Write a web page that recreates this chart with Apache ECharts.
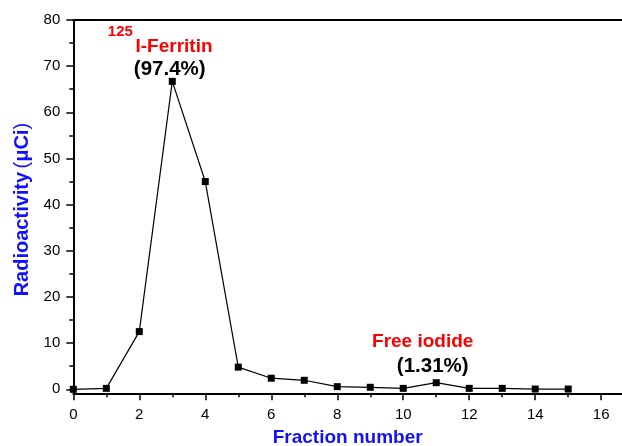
<!DOCTYPE html>
<html>
<head>
<meta charset="utf-8">
<script src="https://cdn.jsdelivr.net/npm/echarts@6/dist/echarts.min.js"></script>
<style>
  html, body { margin: 0; padding: 0; background: #fff; }
  #chart { width: 622px; height: 446px; }
</style>
</head>
<body>
<div id="chart"></div>
<script>
// Elution profile of the labelled ferritin: activity per collected fraction
const fractions = [0, 1, 2, 3, 4, 5, 6, 7, 8, 9, 10, 11, 12, 13, 14, 15];
const activity  = [0.0, 0.2, 12.5, 66.7, 45.0, 4.8, 2.4, 1.95, 0.57, 0.43, 0.2, 1.43, 0.2, 0.2, 0.05, 0.05];

const xMajorTicks = [0, 2, 4, 6, 8, 10, 12, 14, 16];
const xMinorTicks = [1, 3, 5, 7, 9, 11, 13, 15];
const yMajorTicks = [0, 10, 20, 30, 40, 50, 60, 70, 80];
const yMinorTicks = [5, 15, 25, 35, 45, 55, 65, 75];

const peakLabel = '(97.4%)';
const iodideLabel = '(1.31%)';

const FONT = '"Liberation Sans", Arial, sans-serif';
const BLUE = '#1010ff';
const RED = '#ff0000';

const X_MIN = 0, X_MAX = 16.63;
const Y_MIN = -0.87, Y_MAX = 80;

const chart = echarts.init(document.getElementById('chart'), null, { renderer: 'canvas' });

const axisLineStyle = { color: '#000', width: 2 };
const tickStyle = { color: '#000', width: 1.5 };

chart.setOption({
  animation: false,
  backgroundColor: '#fff',
  grid: {
    left: 73.3, right: 0, top: 20, bottom: 52.7,
    containLabel: false,
    outerBoundsMode: 'none'
  },
  xAxis: [
    {
      type: 'value', position: 'bottom', min: X_MIN, max: X_MAX,
      splitLine: { show: false },
      axisLine: { show: true, onZero: false, lineStyle: axisLineStyle },
      axisTick: { show: true, inside: false, customValues: xMajorTicks, length: 7, lineStyle: tickStyle },
      axisLabel: { show: true, customValues: xMajorTicks, margin: 14, color: '#000', fontSize: 15, fontFamily: FONT },
      name: 'Fraction number', nameLocation: 'middle', nameGap: 35,
      nameTextStyle: { color: BLUE, fontSize: 19, fontWeight: 'bold', fontFamily: FONT }
    },
    {
      type: 'value', position: 'bottom', min: X_MIN, max: X_MAX,
      splitLine: { show: false },
      axisLine: { show: false, onZero: false },
      axisTick: { show: true, inside: false, customValues: xMinorTicks, length: 4, lineStyle: tickStyle },
      axisLabel: { show: false }
    },
    {
      type: 'value', position: 'top', min: X_MIN, max: X_MAX,
      splitLine: { show: false },
      axisLine: { show: true, onZero: false, lineStyle: axisLineStyle },
      axisTick: { show: false },
      axisLabel: { show: false }
    }
  ],
  yAxis: [
    {
      type: 'value', position: 'left', min: Y_MIN, max: Y_MAX,
      splitLine: { show: false },
      axisLine: { show: true, onZero: false, lineStyle: axisLineStyle },
      axisTick: { show: true, inside: false, customValues: yMajorTicks, length: 7, lineStyle: tickStyle },
      axisLabel: { show: true, customValues: yMajorTicks, margin: 13, color: '#000', fontSize: 15, fontFamily: FONT },
      name: '{b|Radioactivity} {n|(}{b|\u03bcCi}{n|)}',
      nameLocation: 'middle', nameRotate: 90, nameGap: 41,
      nameTextStyle: {
        fontFamily: FONT,
        padding: [0, 6, 0, 0],
        rich: {
          b: { color: BLUE, fontSize: 20, fontWeight: 'bold', fontFamily: FONT },
          n: { color: BLUE, fontSize: 20, fontWeight: 'normal', fontFamily: FONT }
        }
      }
    },
    {
      type: 'value', position: 'left', min: Y_MIN, max: Y_MAX,
      splitLine: { show: false },
      axisLine: { show: false, onZero: false },
      axisTick: { show: true, inside: false, customValues: yMinorTicks, length: 4, lineStyle: tickStyle },
      axisLabel: { show: false }
    }
  ],
  series: [
    {
      type: 'line',
      xAxisIndex: 0, yAxisIndex: 0,
      data: fractions.map((f, i) => [f, activity[i]]),
      symbol: 'rect', symbolSize: 7,
      itemStyle: { color: '#000' },
      lineStyle: { color: '#000', width: 1.2 },
      clip: false
    }
  ],
  graphic: [
    { type: 'text', x: 120.3, y: 32, style: { text: '125', fill: RED, font: 'bold 15px ' + FONT, align: 'center', verticalAlign: 'middle' } },
    { type: 'text', x: 135.5, y: 47, style: { text: 'I-Ferritin', fill: RED, font: 'bold 19px ' + FONT, align: 'left', verticalAlign: 'middle' } },
    { type: 'text', x: 169.7, y: 69.5, style: { text: peakLabel, fill: '#000', font: 'bold 20.5px ' + FONT, align: 'center', verticalAlign: 'middle' } },
    { type: 'text', x: 422.7, y: 342, style: { text: 'Free iodide', fill: RED, font: 'bold 19px ' + FONT, align: 'center', verticalAlign: 'middle' } },
    { type: 'text', x: 432.7, y: 366.5, style: { text: iodideLabel, fill: '#000', font: 'bold 20.5px ' + FONT, align: 'center', verticalAlign: 'middle' } }
  ]
});
</script>
</body>
</html>
